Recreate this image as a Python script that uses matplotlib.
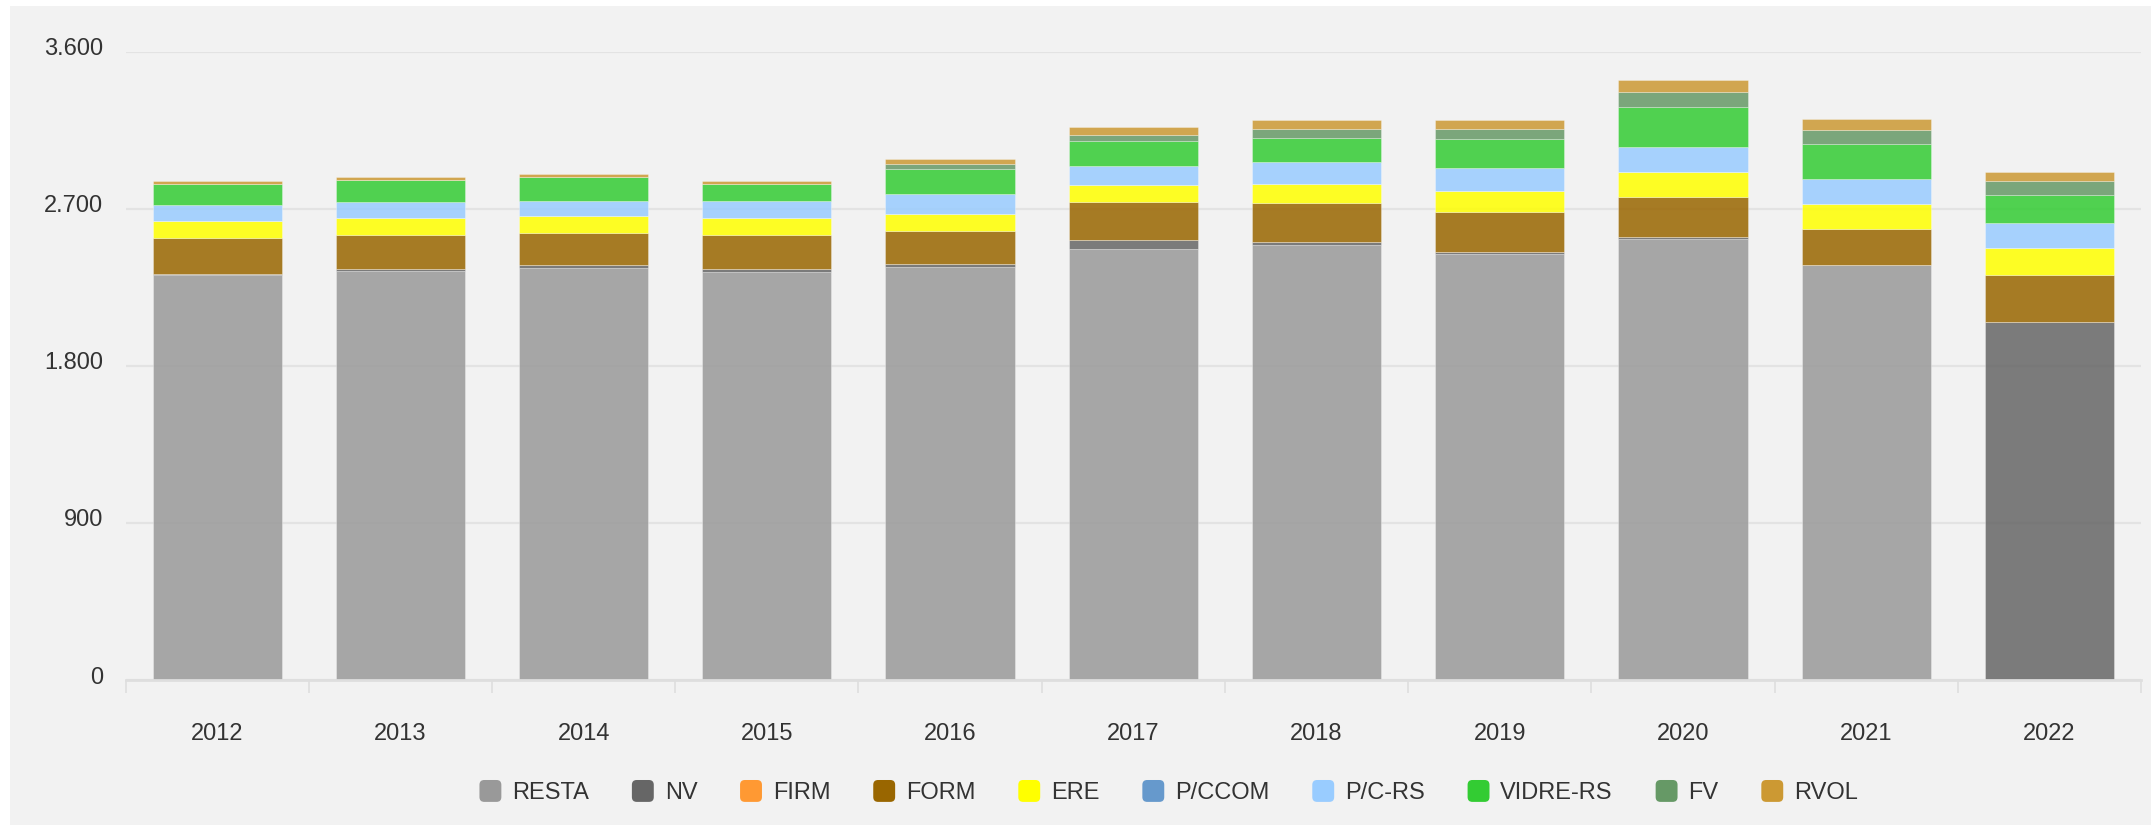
import numpy as np
import matplotlib
matplotlib.use("Agg")
import matplotlib.pyplot as plt
from matplotlib.colors import to_rgba
from matplotlib.patches import Rectangle, FancyBboxPatch
from matplotlib.legend_handler import HandlerPatch
from matplotlib.ticker import FuncFormatter, FixedLocator
import matplotlib.transforms as mtransforms

plt.rcParams['font.family'] = ['Liberation Sans', 'DejaVu Sans']

años = ['2012', '2013', '2014', '2015', '2016', '2017', '2018', '2019', '2020', '2021', '2022']

resta = [2320, 2346, 2360, 2340, 2369, 2467, 2493, 2442, 2526, 2379, 0]
nv = [5, 10, 15, 14, 14, 55, 18, 11, 15, 0, 2054]
firm = [0, 0, 0, 0, 0, 0, 0, 0, 0, 0, 0]
form = [210, 191, 185, 193, 189, 214, 221, 226, 226, 206, 267]
ere = [96, 103, 100, 98, 99, 101, 111, 124, 141, 145, 157]
pccom = [0, 0, 0, 0, 0, 0, 0, 0, 0, 0, 0]
pcrs = [93, 86, 84, 97, 113, 109, 126, 130, 145, 140, 140]
vidre = [119, 130, 137, 101, 143, 140, 136, 164, 231, 204, 162]
fv = [0, 0, 0, 0, 31, 34, 53, 61, 86, 75, 80]
rvol = [17, 15, 18, 17, 26, 50, 50, 50, 69, 65, 52]

series = [
    ('RESTA', resta, '#999999'),
    ('NV', nv, '#666666'),
    ('FIRM', firm, '#ff9933'),
    ('FORM', form, '#996600'),
    ('ERE', ere, '#ffff00'),
    ('P/CCOM', pccom, '#6699cc'),
    ('P/C-RS', pcrs, '#99ccff'),
    ('VIDRE-RS', vidre, '#33cc33'),
    ('FV', fv, '#669966'),
    ('RVOL', rvol, '#cc9933'),
]


# cuadrito redondeado de la leyenda
def cuadro_redondo(legend, orig_handle, xdescent, ydescent, width, height, fontsize):
    lado = min(width, height)
    return FancyBboxPatch((-xdescent + (width - lado) / 2, -ydescent + (height - lado) / 2),
                          lado, lado, boxstyle=f'round,pad=0,rounding_size={lado * 0.22}')


fondo = '#f2f2f2'
fig = plt.figure(figsize=(21.55, 8.25), dpi=100, facecolor='white')
fig.patches.append(Rectangle((10 / 2155, 0), (2151 - 10) / 2155, (825 - 6) / 825,
                             transform=fig.transFigure, facecolor=fondo,
                             edgecolor='none', zorder=-10))

ax = fig.add_axes([125.6 / 2155, 1 - 680 / 825, (2141 - 125.6) / 2155, (680 - 51.7) / 825])
ax.set_facecolor('none')
ax.set_zorder(2)

x = np.arange(len(años))
base = np.zeros(len(años))
handles = []
for nombre, valores, color in series:
    valores = np.array(valores, dtype=float)
    ax.bar(x, valores, 0.705, bottom=base, color=to_rgba(color, 0.85),
           edgecolor=(1, 1, 1, 0.35), linewidth=0.6, zorder=3)
    handles.append(Rectangle((0, 0), 1, 1, facecolor=color, edgecolor='none', label=nombre))
    base += valores

ax.set_xlim(-0.5, len(años) - 0.5)
ax.set_ylim(0, 3600)
ax.set_yticks([0, 900, 1800, 2700, 3600])
ax.yaxis.set_major_formatter(FuncFormatter(lambda v, p: f'{int(v):,}'.replace(',', '.')))
ax.grid(axis='y', color='#e3e3e3', linewidth=1.6, zorder=0)

for lado in ['top', 'right', 'left']:
    ax.spines[lado].set_visible(False)
ax.spines['bottom'].set_color('#dedede')
ax.spines['bottom'].set_linewidth(2)
ax.spines['bottom'].set_zorder(4)

ax.set_xticks(x)
ax.set_xticklabels(años)
ax.xaxis.set_minor_locator(FixedLocator(np.arange(-0.5, len(años), 1)))
ax.tick_params(axis='x', which='major', length=0, pad=31, labelsize=17, labelcolor='#333333')
ax.tick_params(axis='x', which='minor', length=9, width=1.2, color='#dedede')
ax.tick_params(axis='y', length=0, pad=16, labelsize=17, labelcolor='#333333')
desplazar = mtransforms.ScaledTranslation(0, 5 / 100, fig.dpi_scale_trans)
for etiqueta in ax.get_yticklabels():
    etiqueta.set_transform(etiqueta.get_transform() + desplazar)

fig.legend(handles=handles, loc='center', bbox_to_anchor=(1168 / 2155, 33 / 825), ncol=10,
           frameon=False, fontsize=17, handlelength=1.05, handleheight=1.05, handletextpad=0.4,
           columnspacing=1.75, labelcolor='#333333',
           handler_map={Rectangle: HandlerPatch(patch_func=cuadro_redondo)})

fig.savefig('out.png', dpi=100, facecolor='white')
